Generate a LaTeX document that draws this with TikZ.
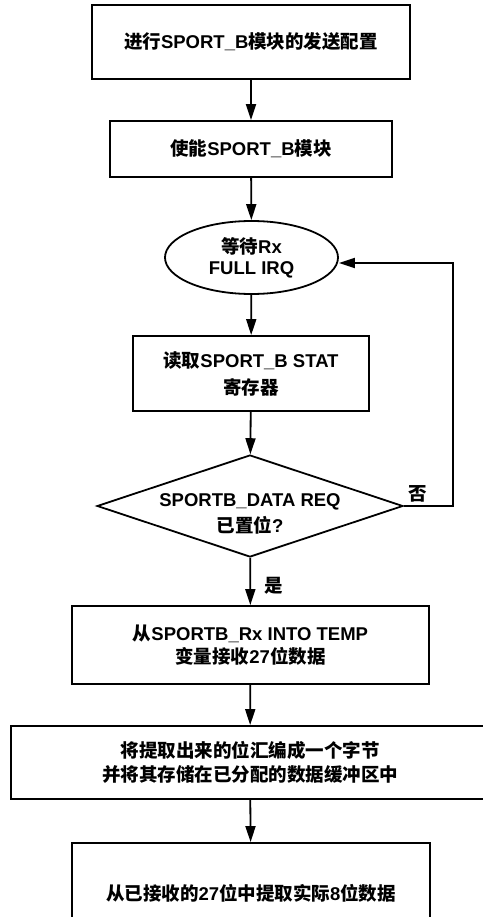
\documentclass[tikz,border=0pt]{standalone}
\usepackage{fontspec}
\setmainfont{Liberation Sans}
\newfontfamily\cj{Noto Sans CJK SC}
\usetikzlibrary{shapes.geometric,arrows.meta,calc}
\newcommand{\C}[1]{{\cj #1}}
\tikzset{
  every node/.style={font=\bfseries\fontsize{18.5}{22}\selectfont},
  procbox/.style={draw, line width=1.8pt, rectangle, inner sep=0pt, align=center},
  termbox/.style={draw, line width=1.8pt, ellipse, inner sep=0pt, align=center},
  decbox/.style={draw, line width=1.8pt, diamond, inner sep=0pt},
  txt/.style={align=center, inner sep=0pt},
  conn/.style={line width=1.8pt, -{Triangle[length=16pt,width=10pt]}},
}
\begin{document}
\begin{tikzpicture}[x=1pt,y=-1pt]
\useasboundingbox[fill=white] (0,0) rectangle (482,917);
\node[procbox, minimum width=318pt, minimum height=74pt] (b1) at (251,42) {\C{进行}SPORT\_B\C{模块的发送配置}};
\node[procbox, minimum width=282pt, minimum height=56pt] (b2) at (251,149) {\C{使能}SPORT\_B\C{模块}};
\node[termbox, minimum width=173pt, minimum height=73pt, font=\bfseries\fontsize{18.5}{21}\selectfont] (e1) at (251.5,257.5) {\C{等待}Rx\\FULL IRQ};
\node[procbox, minimum width=236pt, minimum height=75pt, font=\bfseries\fontsize{18.5}{27}\selectfont] (b3) at (251,373.5) {\C{读取}SPORT\_B STAT\\\C{寄存器}};
\node[decbox, minimum width=306pt, minimum height=102pt] (d1) at (250,506) {};
\node[txt, font=\bfseries\fontsize{18.5}{26}\selectfont] (d1t) at (250,514) {SPORTB\_DATA REQ\\\C{已置位}?};
\node[procbox, minimum width=357pt, minimum height=78pt, font=\bfseries\fontsize{18.5}{23}\selectfont] (b4) at (250.5,645) {\C{从}SPORTB\_Rx INTO TEMP\\\C{变量接收}27\C{位数据}};
\node[procbox, minimum width=478pt, minimum height=73pt, font=\bfseries\fontsize{18.5}{24}\selectfont] (b5) at (250,762.5) {\C{将提取出来的位汇编成一个字节}\\\C{并将其存储在已分配的数据缓冲区中}};
\node[procbox, minimum width=358pt, minimum height=100pt] (b6) at (251,893) {\C{从已接收的}27\C{位中提取实际}8\C{位数据}};
\draw[conn] (b1) -- (b2);
\draw[conn] (b2) -- (e1);
\draw[conn] (e1) -- (b3);
\draw[conn] (b3) -- (d1);
\draw[conn] (d1) -- (b4);
\draw[conn] (b4) -- (b5);
\draw[conn] (b5) -- (b6);
\coordinate (lp) at (453,263);
\draw[conn] (d1.east) -| (lp) -- (e1.east |- lp);
\node[txt] (no) at (418,494) {\C{否}};
\node[txt] (yes) at (274,586) {\C{是}};
\end{tikzpicture}
\end{document}
